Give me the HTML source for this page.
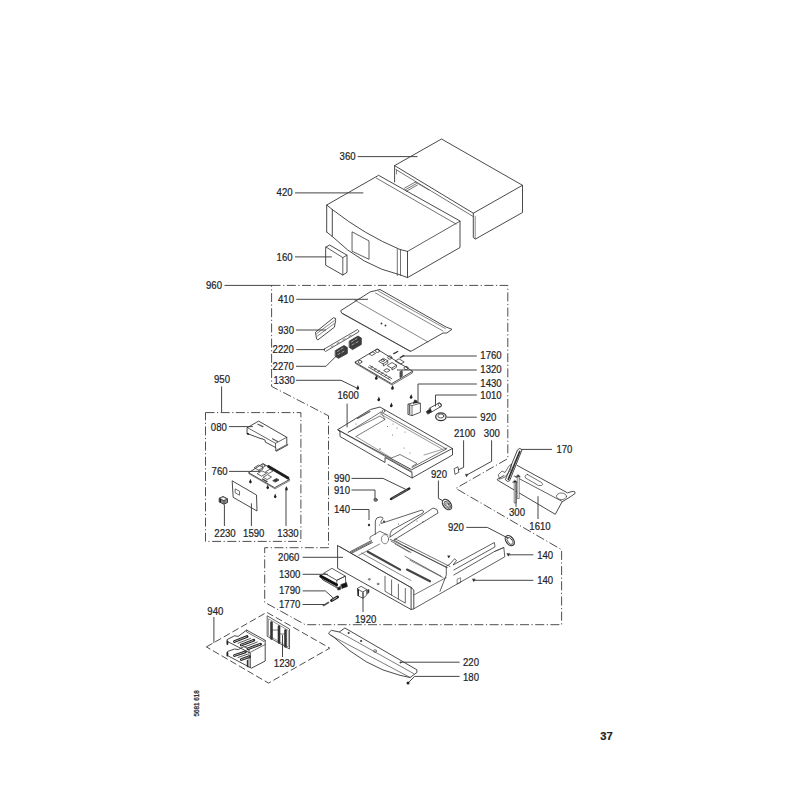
<!DOCTYPE html>
<html><head><meta charset="utf-8"><style>
html,body{margin:0;padding:0;background:#fff;width:800px;height:800px;overflow:hidden}
svg{display:block}
text{font-family:"Liberation Sans",sans-serif;fill:#222;stroke:#222;stroke-width:0.22px}
</style></head><body>
<svg width="800" height="800" viewBox="0 0 800 800">

<g font-size="11.3">
<text transform="translate(339.6,160.2) scale(0.85,1)">360</text>
<text transform="translate(276.6,196.2) scale(0.85,1)">420</text>
<text transform="translate(276.6,260.8) scale(0.85,1)">160</text>
<text transform="translate(206,289.3) scale(0.85,1)">960</text>
<text transform="translate(278,302.5) scale(0.85,1)">410</text>
<text transform="translate(278,334) scale(0.85,1)">930</text>
<text transform="translate(272.6,353) scale(0.85,1)">2220</text>
<text transform="translate(272.6,369.8) scale(0.85,1)">2270</text>
<text transform="translate(273.5,383.8) scale(0.85,1)">1330</text>
<text transform="translate(214,383) scale(0.85,1)">950</text>
<text transform="translate(480.3,359.3) scale(0.85,1)">1760</text>
<text transform="translate(480.3,373.3) scale(0.85,1)">1320</text>
<text transform="translate(480.3,387.3) scale(0.85,1)">1430</text>
<text transform="translate(480.3,398.6) scale(0.85,1)">1010</text>
<text transform="translate(337.5,399.3) scale(0.85,1)">1600</text>
<text transform="translate(480.3,421) scale(0.85,1)">920</text>
<text transform="translate(454,436.8) scale(0.85,1)">2100</text>
<text transform="translate(483.8,436.8) scale(0.85,1)">300</text>
<text transform="translate(556.4,452.5) scale(0.85,1)">170</text>
<text transform="translate(431,478) scale(0.85,1)">920</text>
<text transform="translate(334,482.4) scale(0.85,1)">990</text>
<text transform="translate(334,493.8) scale(0.85,1)">910</text>
<text transform="translate(334,513) scale(0.85,1)">140</text>
<text transform="translate(509,516.4) scale(0.85,1)">300</text>
<text transform="translate(529.3,529.5) scale(0.85,1)">1610</text>
<text transform="translate(447.9,531.3) scale(0.85,1)">920</text>
<text transform="translate(210.8,430.6) scale(0.85,1)">080</text>
<text transform="translate(211.6,475.3) scale(0.85,1)">760</text>
<text transform="translate(214.3,536.5) scale(0.85,1)">2230</text>
<text transform="translate(243.1,536.5) scale(0.85,1)">1590</text>
<text transform="translate(277.3,536.5) scale(0.85,1)">1330</text>
<text transform="translate(278.1,561) scale(0.85,1)">2060</text>
<text transform="translate(279,577.8) scale(0.85,1)">1300</text>
<text transform="translate(279,594.4) scale(0.85,1)">1790</text>
<text transform="translate(279,607.5) scale(0.85,1)">1770</text>
<text transform="translate(537.2,559) scale(0.85,1)">140</text>
<text transform="translate(537.2,584.4) scale(0.85,1)">140</text>
<text transform="translate(207.3,614.5) scale(0.85,1)">940</text>
<text transform="translate(355,622.5) scale(0.85,1)">1920</text>
<text transform="translate(273.8,667.4) scale(0.85,1)">1230</text>
<text transform="translate(463,666.3) scale(0.85,1)">220</text>
<text transform="translate(463,681) scale(0.85,1)">180</text>
</g>
<text x="600.2" y="740.3" font-size="11.2" font-weight="bold" fill="#111">37</text>
<text transform="translate(199.3,716.5) rotate(-90)" font-size="6.3">5681 618</text>
<g fill="none" stroke="#363636" stroke-width="0.9" stroke-linejoin="round" stroke-linecap="round">
<!-- box 360 -->
<path d="M394.6,182V165.6L441.5,139L522.5,185.3V212.5L475.5,239L473.3,237.5V213.2L394.6,165.6"/>
<path d="M473.3,213.2L522.5,185.3"/>
<path d="M396,169.6L472.8,216.3" stroke-width="0.7"/>
<path d="M475.2,216.2V238.8" stroke-width="0.6"/>
<path d="M396.5,170V174" stroke-width="0.6"/>
<path d="M404.4,188.2L415.4,182M405.4,189.8L416.4,183.6M406.4,191.3L417.4,185" stroke-width="0.7"/>
<path d="M415.4,182L429,190" stroke-width="0.6"/>
<!-- box 420 -->
<path d="M326.7,232V205L378.6,175.3L460,221V247.5L407.5,277.6V251.4"/>
<path d="M376.2,178L456,224" stroke-width="0.7"/>
<path d="M407.5,251.4L460,221.2" stroke-width="0.8"/>
<path d="M326.7,205L332.3,209.5Q365,235 400,249.5L407.5,251.4"/>
<path d="M332.3,209.5V236.5M326.7,232L332.3,236.5Q362,266 400.5,275L407.5,277.6"/>
<path d="M397.3,249V275.5M400.5,249.5V275.5" stroke-width="0.7"/>
<path d="M352.4,232L369,240.9V259.3L352.4,251.4Z" stroke-width="0.8"/>
<!-- 160 -->
<path d="M326,247L329.6,245L347,255.2V272.4L342.8,275L326,265.4Z"/>
<path d="M326,247L342.8,257.6L347,255.2M342.8,257.6V275" stroke-width="0.8"/>
<!-- 410 plate -->
<path d="M341,310.5L370.3,291.8L374,291L380,289.5L446,327L452,329.3L446.8,333L443,333L411.5,351L410,351L341.8,313Z"/>
<path d="M342,313.5L410.5,351.5" stroke-width="0.6"/>
<path d="M354.5,300L428,342" stroke-width="0.6"/>
<path d="M378.5,291.2L445.3,328.5M375.5,293L443,331" stroke-width="0.6"/>
<circle cx="381.5" cy="323.5" r="0.9" fill="#333" stroke="none"/><circle cx="385.5" cy="325.5" r="0.9" fill="#333" stroke="none"/>
<!-- 930 -->
<path d="M315.8,332L333.4,317.8Q336.5,317.5 335.6,320.5L334.4,327.2L317.9,339.9L316.9,339.2Z"/>
<path d="M316.8,333.5L334.4,320.5M317.5,336L334.2,323.6" stroke-width="0.6"/>
<!-- 2220 rod -->
<path d="M324.3,349L357.5,329.6Q359.5,330.5 358.6,332L325.6,351.4Q323.5,350.8 324.3,349Z" stroke-width="0.8"/>
<path d="M331,347L333,345.8M337,343.5L339,342.3M343,340L345,338.8M349,336.5L351,335.3" stroke-width="0.6"/>
<!-- 2270 connectors -->
<path d="M335.5,350.5L344,345.5L347.3,347.5V353.5L338.5,358.3L335.5,356.5Z" fill="#3c3c3c" stroke-width="0.8"/>
<path d="M337.5,351.5L339.5,350.3M341,349.3L343,348.1M338,354.5L340,353.3M342,352.3L344,351.1" stroke="#bbb" stroke-width="0.8"/>
<path d="M349.5,341L358,336L361.3,338V344.5L352.5,349.6L349.5,347.5Z" fill="#3c3c3c" stroke-width="0.8"/>
<path d="M351.5,342L353.5,340.8M355,339.8L357,338.6M352,345L354,343.8M356,342.8L358,341.6" stroke="#bbb" stroke-width="0.8"/>
<!-- PCB 1320 -->
<path d="M355.3,362L377,349L412.6,371.3L392,383.5Z"/>
<path d="M355.3,362V363.4L392,385L412.6,372.8V371.3" stroke-width="0.7"/>
<g stroke-width="0.8">
<ellipse cx="377.5" cy="350.8" rx="2" ry="1.7"/><ellipse cx="389.8" cy="357.5" rx="2" ry="1.7"/>
<ellipse cx="406" cy="368" rx="2" ry="1.7"/><ellipse cx="360" cy="361.8" rx="1.8" ry="1.5"/>
<path d="M369.5,353.8L372.8,351.8L375.5,353.4L372.2,355.4Z"/>
<path d="M379,361.2L383.5,358.3L387.8,360.8L383.3,363.7Z"/>
<path d="M383.3,363.7V366L387.8,363.1V360.8"/>
<ellipse cx="382.8" cy="360.4" rx="1.6" ry="1.1"/>
<path d="M387.5,365.3L392,362.5L396.5,365.2L392,368Z"/>
<path d="M392,368V370L396.5,367.2V365.2"/>
<path d="M384,370.3L387,368.5L390,370.3L387,372.1Z"/>
<path d="M395.5,360.8L399,358.8L404.2,362L400.7,364Z"/>
<path d="M400,372V377.5L402.2,376.3V370.8Z" fill="#555"/>
</g>
<path d="M368.4,367L390.3,380M369.8,365.6L391.7,378.6" stroke-width="0.8"/>
<path d="M371,367.5L372.5,366.6M374.5,369.6L376,368.7M378,371.7L379.5,370.8M381.5,373.8L383,372.9M385,375.9L386.5,375M388.5,378L390,377.1" stroke-width="0.8"/>
<path d="M393.8,353.6L397.7,351.5M400.3,357.7L403.8,355.5" stroke-width="1.4"/>
<!-- screws (bullet shape) -->
<g fill="#222" stroke="none">
<path d="M356.5,388.5l1.4,-3.4l1.4,3.4z"/><path d="M375,378.5l1.4,-3.4l1.4,3.4z"/><path d="M391.2,388.3l1.4,-3.4l1.4,3.4z"/>
<path d="M377.5,400l1.4,-3.4l1.4,3.4z"/><path d="M390,406l1.4,-3.4l1.4,3.4z"/><path d="M409.8,397.5l1.4,-3.4l1.4,3.4z"/>
<circle cx="357.7" cy="388.6" r="1.25"/><circle cx="376.2" cy="378.6" r="1.25"/><circle cx="392.4" cy="388.4" r="1.25"/>
<circle cx="378.7" cy="400.1" r="1.25"/><circle cx="391.2" cy="406.1" r="1.25"/><circle cx="411" cy="397.6" r="1.25"/>
</g>
<!-- 1430 relay -->
<path d="M408.3,404.2L416,401.8L420.4,403.3V412.3L412,415.6L408.3,414.5Z" stroke-width="0.85"/>
<path d="M408.3,404.2L412,405.6L420.4,403.3M412,405.6V415.6" stroke-width="0.7"/>
<path d="M409.5,405V413.8" stroke="#666" stroke-width="1.6"/>
<path d="M413.5,403.5L414.5,400L416.5,400.5L417.5,403" fill="#222" stroke-width="0.8"/>
<!-- 1010 capacitor -->
<path d="M429,408.5L438.8,403Q442,403.5 441,406.5L431,412.3" stroke-width="0.85"/>
<ellipse cx="439.8" cy="404.8" rx="1.4" ry="2.2" transform="rotate(-30 439.8 404.8)" stroke-width="0.7"/>
<path d="M426.5,411.5L430.5,408.5L431.5,412L428,414Z" fill="#222" stroke-width="0.8"/>
<!-- 920 ring top -->
<ellipse cx="440.9" cy="416.8" rx="5.2" ry="3.9" stroke-width="1.3"/>
<ellipse cx="440.9" cy="416" rx="3" ry="2" stroke-width="0.8"/>
<!-- tray 1600 -->
<path d="M338,429.5L355,419L370.5,409.5L380,407L452.5,448.5L412,469.5Z"/>
<path d="M338,429.5L340,432V436.5L385,462.5V457.5L388,459L412,472.5V478L452.5,455V448.5M412,478L388,464.5"/>
<path d="M339,430.5L412,471.5" stroke-width="0.6"/>
<path d="M348,432.5L381,412L446.5,449L442.5,451L412,467.5" stroke-width="0.7"/>
<path d="M348.5,432L380,416L385,419.5L356,436.5" stroke-width="0.65"/>
<path d="M391.5,458L400,454.5L417,463.5L412,466.5" stroke-width="0.65"/>
<path d="M356,436.5L391.5,458" stroke-width="0.5"/>
<path d="M381,412L385,419.5M380.5,414L442,449" stroke-width="0.5"/>
<path d="M357.5,418.5L370,411.5" stroke-width="1.1" stroke="#555"/>
<circle cx="383.5" cy="411" r="1.3" stroke-width="0.6"/>
<path d="M424,455L447,448" stroke-width="0.5"/>
<g fill="#555" stroke="none"><circle cx="356" cy="424" r="0.5"/><circle cx="387.5" cy="426.5" r="0.5"/><circle cx="393" cy="424" r="0.5"/><circle cx="397" cy="428" r="0.5"/><circle cx="405" cy="432" r="0.5"/><circle cx="392.5" cy="435" r="0.5"/><circle cx="410" cy="453" r="0.5"/><circle cx="404" cy="448" r="0.5"/><circle cx="380" cy="449" r="0.7"/></g>
<!-- 2100 small -->
<path d="M454.5,468.5L458,466.8L458.8,472.3L455.3,474.2Z" stroke-width="0.8"/>
<path d="M465.6,474.6l1,2.2l1,-2.2z" fill="#222" stroke="#222" stroke-width="0.6"/>
<!-- 170 rod -->
<path d="M517.8,449.5Q519.8,447 522,449.8L509.6,480.8Q507.3,482.5 505.6,480Z" stroke-width="0.9" fill="#fff"/>
<path d="M519.7,451.5L508.2,479.5" stroke-width="1.8" stroke="#333" stroke-dasharray="1 0.7"/>
<!-- plate 1610 -->
<path d="M517,465.3L567.6,492.9Q576,489.5 575,493.5L570,497L562,501.9L555.3,514.3L497.3,480L497.3,479.4L504,475.5"/>
<path d="M514.2,476L562,501.3" stroke-width="0.8"/>
<path d="M498.5,474.5L502,471L505,472.5L508.5,466.5L511.5,464L510.5,470L505,477L500,479Z" stroke-width="0.7"/>
<path d="M527.5,474.5L541.5,482.5Q544,484.5 541.5,485.5L538.5,485.5L525.5,478Q524,475 527.5,474.5Z" stroke-width="0.7"/>
<ellipse cx="561.5" cy="496.3" rx="5" ry="3.3" stroke-width="0.7"/>
<path d="M514.2,482.5V503H516.2V482.5M517.2,477V498.5H519.2V477" stroke-width="0.6" fill="#fff"/>
<path d="M512.8,482.3h4.4l-2.2,-2z M516,476.8h4.4l-2.2,-2z" fill="#222" stroke-width="0.5"/>
<!-- 920 ring mid -->
<ellipse cx="447" cy="504.5" rx="3.7" ry="5.9" transform="rotate(-38 447 504.5)" stroke-width="1.2"/>
<ellipse cx="447.3" cy="504.8" rx="2.2" ry="4.2" transform="rotate(-38 447.3 504.8)" stroke-width="0.8"/>
<ellipse cx="447.5" cy="505" rx="1" ry="2.8" transform="rotate(-38 447.5 505)" stroke-width="0.6"/>
<!-- 990 spring -->
<path d="M391,499L409.3,488.5" stroke-width="2.4" stroke="#222"/>
<path d="M392.5,498.2L408,489.3" stroke-width="0.8" stroke="#888" stroke-dasharray="0.8 1"/>
<!-- 910 nut -->
<ellipse cx="375.6" cy="499.8" rx="1.8" ry="1.6" fill="#777" stroke-width="0.6"/>
<!-- 920 ring lower -->
<ellipse cx="509.8" cy="540.6" rx="3.7" ry="5.7" transform="rotate(-38 509.8 540.6)" stroke-width="1.2"/>
<ellipse cx="510" cy="540.9" rx="2.2" ry="4" transform="rotate(-38 510 540.9)" stroke-width="0.8"/>
<!-- 080 cover -->
<path d="M247.4,427.6L258.6,421.1L286.8,437.3V443.5L288,444.8L276.5,451.2L275.8,450.8V447.6L265.2,442V440.2L261.8,438.6V439L247.4,433.6Z" fill="#fff"/>
<path d="M247.4,427.6L275.5,443.3L286.8,437.3M275.5,443.3V447.6M276,450.5L286.8,444.5" stroke-width="0.75"/>
<path d="M247.4,433.6l1,0.6" stroke-width="1.6" stroke="#222"/>
<path d="M258,424.2L263,426.6M272.5,438.8L277.5,441.6" stroke-width="1.2" stroke="#555"/>
<!-- 760 pcb -->
<path d="M249,472.5L263,463.5L289.5,479.5L275,487.5Z"/>
<path d="M249,472.5V473.8L275,488.8L289.5,480.8V479.5" stroke-width="0.6"/>
<path d="M268.5,466.5L288,478" stroke-width="2.8" stroke="#1e1e1e"/>
<g stroke-width="0.75">
<path d="M254.5,467.5L258.5,465L263,467.5L259,470Z"/>
<path d="M259,470V471.5L263,469V467.5"/>
<ellipse cx="263.5" cy="465.8" rx="1.6" ry="1.2"/>
<path d="M257.5,473.5L262,470.8L266.5,473.3L262,476Z M263.5,477L267.5,474.6L271.5,477L267.5,479.4Z"/>
<path d="M266,471.5L270,469.2L273,471L269,473.3Z"/>
<path d="M273,480.5L276.5,478.5L279,480L275.5,482Z" fill="#333"/>
</g>
<path d="M262.5,479L267,481.7" stroke-width="1.4" stroke="#444"/>
<!-- 1590 plate -->
<path d="M232.5,481L256.5,495L257,511L233.5,497.5Z" stroke-width="0.9"/>
<path d="M235.5,489L239.5,491.2V495.2L235.5,493Z" stroke-width="0.7"/>
<!-- 2230 -->
<path d="M219.5,498.2L223,496.5L227.5,498.8V502.5L224,504.3L219.5,502Z" fill="#888" stroke-width="0.9"/>
<path d="M219.5,498.2L224,500.5L227.5,498.8M224,500.5V504.3" stroke-width="0.6"/>
<path d="M220.3,499V502" stroke-width="1.4" stroke="#222"/>
<path d="M220,498.3L223,497L226.8,499L224,500.3Z" fill="#fff" stroke-width="0.5"/>
<!-- screws 950 -->
<g fill="#222" stroke="none">
<path d="M249,482.2l1.4,-3.4l1.4,3.4z"/><path d="M266.3,488l1.4,-3.4l1.4,3.4z"/><path d="M273.8,497l1.4,-3.4l1.4,3.4z"/><path d="M285.1,489.5l1.4,-3.4l1.4,3.4z"/>
<circle cx="250.4" cy="482.3" r="1.15"/><circle cx="267.7" cy="488.1" r="1.15"/><circle cx="275.2" cy="497.1" r="1.15"/><circle cx="286.5" cy="489.6" r="1.15"/>
</g>
<!-- chassis 2060 -->
<path d="M337.6,545.6V568.3L411.1,609.5V587.5L337.6,545.6"/>
<path d="M339.5,546.5L411.8,588" stroke-width="0.6"/>
<path d="M411.1,609.5L413.8,608.8V590L411.1,587.5"/>
<path d="M350.5,551.5L371.5,540.6M351.5,553.3L372.5,542.4" stroke-width="0.8"/>
<path d="M351,552.4L372,541.5" stroke-width="0.8" stroke-dasharray="0.7 0.7"/>
<path d="M367.8,551.8L400.1,569.6" stroke-width="2.2" stroke="#444"/>
<path d="M407,569.6L430,581.3" stroke-width="2.2" stroke="#444"/>
<path d="M390.5,539.4L447.3,567.5M395,538.8L450,566.5" stroke-width="0.7"/>
<path d="M361.6,553L411,580.5M410,560.3L443,577.6" stroke-width="0.6"/>
<path d="M385,576.3V591.3L405.3,603.1V588.5M391.6,580V595M398.4,584.2V599" stroke-width="0.75"/>
<circle cx="369.2" cy="579.3" r="0.9" stroke-width="0.6"/><circle cx="378" cy="584" r="0.9" stroke-width="0.6"/>
<!-- bracket base + arms 140 (center) -->
<path d="M375.3,534.3V521Q376,517 380,517Q383.5,517 383,518.5L381,521.5V523.5L422,510L423.5,511L423,513L392,530Q389.5,533 390,537" stroke-width="0.8"/>
<path d="M390,537L433,508L437,509.5L438,513L394,540" stroke-width="0.8"/>
<path d="M370,539.5V537L379.8,531.3L388,535" stroke-width="0.7"/>
<ellipse cx="385" cy="539.2" rx="3.6" ry="4.6" stroke-width="0.6"/>
<path d="M391,541L411,552.5M394,540L412,550.5" stroke-width="0.7"/>
<path d="M395,544L409,552" stroke-width="0.6" stroke-dasharray="1.2 1"/>
<path d="M358.8,555.3L379.8,544" stroke-width="0.6"/>
<g fill="#333" stroke="none"><circle cx="379.5" cy="525" r="0.5"/><circle cx="398.5" cy="524" r="0.5"/><circle cx="417" cy="521" r="0.5"/><circle cx="423" cy="521.5" r="0.5"/><circle cx="384" cy="521.5" r="1"/><circle cx="369" cy="525" r="1.2"/></g>
<!-- right arm 140 -->
<path d="M405,546.3L446.3,567.5M405,556.3L441.3,576.3" stroke-width="0.7"/>
<path d="M413.8,595L446.3,577.5" stroke-width="0.7"/>
<path d="M440,591.3L446.3,575V566.3L450,564L454.5,558.8L456.5,560.5L453.1,565L494.4,542.5L495,546.9L453.8,570" stroke-width="0.8"/>
<path d="M453.8,575L494.5,551.5L503.8,547.5L504.8,556.8L413.8,608.8" stroke-width="0.8"/>
<path d="M494.5,551.5L503.8,547.5" stroke-width="0.6"/>
<path d="M457.5,579L460.6,577.8V582.5L457.5,583.8Z" stroke-width="0.6"/>
<path d="M472.5,579.3l1.3,2.4l1.3,-2.4z M447.8,556l1,2l1,-2z M507,553.8l1.3,2.4l1.3,-2.4z" fill="#222" stroke="#222" stroke-width="0.5"/>
<!-- 1300 -->
<path d="M324,573.1L331.9,568.3L345.4,576.1L336.8,580.3Z" fill="#fff" stroke-width="0.8"/>
<path d="M320.5,576.2L324,573.1L336.8,580.3V587.8L323,580Z" fill="#fff" stroke-width="0.7"/>
<path d="M336.8,580.3L345.4,576.1L345.8,584L337.5,587.8" stroke-width="0.8"/>
<path d="M320.8,576.2L336.5,584.8" stroke-width="3" stroke="#111"/>
<path d="M322.5,579.5L336.5,587.3" stroke-width="0.6"/>
<path d="M341,584.5L346.5,582.5L347.5,586.5L342,588.5Z" fill="#111" stroke-width="0.6"/>
<path d="M337.5,587.8L340.5,587L340.5,589.6L338,590Z" fill="#111" stroke-width="0.6"/>
<!-- 1790 spring -->
<path d="M331.6,600.5L337.5,597" stroke-width="3" stroke="#222"/>
<path d="M332.6,599.9L336.8,597.4" stroke-width="0.9" stroke="#ddd" stroke-dasharray="0.9 0.9"/>
<!-- 1770 screw -->
<path d="M323.5,605.5L328.5,602.5" stroke-width="1.6" stroke="#555"/>
<!-- 1920 -->
<path d="M357.4,588.5L361.1,586.3L366.8,589.6L363,591.9Z" stroke-width="0.8"/>
<path d="M357.4,588.5L358.5,596L363,598.3V591.9M366.8,589.6V595L363,598.3" stroke-width="0.8"/>
<path d="M358.2,590V595.5" stroke="#222" stroke-width="1.5"/>
<path d="M367.5,590L369,589.5V592.5L367.5,593.5Z" fill="#222" stroke-width="0.6"/>
<!-- 220 bar -->
<path d="M329.1,632.5L331.4,630.3L339.3,632L344.9,628L416.9,669.8V672.5L410.1,677.5L400,675.3Q365.7,667.4 333.6,637L329.1,634Z"/>
<path d="M339.3,632L413.5,673.5M331,635.5L410.1,677.5" stroke-width="0.65"/>
<circle cx="348.5" cy="633" r="0.6" fill="#333"/><circle cx="361" cy="641" r="0.6" fill="#333"/><circle cx="375" cy="651" r="1.4" stroke-width="0.6"/><circle cx="400.5" cy="662.5" r="0.6" fill="#333"/>
<circle cx="408" cy="683" r="1.5" fill="#222" stroke="none"/>
<!-- 940 connectors -->
<path d="M227.4,639.4L234.6,635.8L238.2,636.4L246.6,630.1L265.2,640.3V661L251.4,668.2L227.4,655.5V651.5L234.6,649L238.2,649.6L244,646.5L249,649.2V652.5L227.4,641.5Z" fill="#fff" stroke-width="0.9"/>
<path d="M249,653L265.2,644.5M249,652.5V667.4M250.5,653V667.5" stroke-width="0.7"/>
<path d="M246.6,630.1V632L264,641.5L265.2,640.3" stroke-width="0.7"/>
<path d="M234.5,641.5L247,636.5M241.3,645L253.8,640.2M248,648.7L260.5,644.2" stroke-width="2.8" stroke="#1e1e1e"/>
<path d="M234.5,641.5L247,636.5M241.3,645L253.8,640.2M248,648.7L260.5,644.2" stroke-width="0.7" stroke="#fff" stroke-dasharray="0.6 0.9"/>
<path d="M238,643.3L250.5,638.4M244.8,646.8L257.3,642" stroke-width="0.9" stroke="#444"/>
<path d="M234.5,655.5L245.5,651.8M241.3,659.5L249.5,656.6" stroke-width="2.8" stroke="#1e1e1e"/>
<path d="M234.5,655.5L245.5,651.8M241.3,659.5L249.5,656.6" stroke-width="0.7" stroke="#fff" stroke-dasharray="0.6 0.9"/>
<path d="M238,657.5L247.5,654.2" stroke-width="0.9" stroke="#444"/>
<path d="M227.4,641.5V644M227.4,655.5V652.8" stroke-width="1.8" stroke="#222"/>
<path d="M247.5,660.5V666.5" stroke-width="1.4" stroke="#333"/>
<!-- 1230 -->
<path d="M267.5,616L289.5,629V649L267.5,636.5Z" stroke-width="0.8"/>
<path d="M268.8,619L288.3,630.5V647L268.8,635.5Z" stroke-width="0.5"/>
<path d="M271.5,622.5V638.5M279,626.5V642.5M285.5,630.5V646.5" stroke-width="2.6" stroke="#333"/>
<path d="M271.5,630H279M279,634H285.5" stroke-width="0.7"/>
</g>

<g fill="none" stroke="#3c3c3c" stroke-width="0.95">
<path d="M357.7,156.6H417.5"/>
<path d="M295,192.9H363.3"/>
<path d="M295,256.9H331.8"/>
<path d="M224.5,285.4H271.8"/>
<path d="M296.3,299.3H368"/>
<path d="M296,330H326"/>
<path d="M296.3,349.6H325"/>
<path d="M296,366.3H326L336.5,355.8"/>
<path d="M296,380.3H341L356.8,388"/>
<path d="M402.3,356H476.8"/>
<path d="M397,370H476.8"/>
<path d="M418,402V384H476.8"/>
<path d="M435.5,406.5V395H476.8"/>
<path d="M347.1,403.6V427.3"/>
<path d="M447,417.2H476.8"/>
<path d="M463.6,440.3V467.4L458,470"/>
<path d="M491.6,440.3V461.3L466.3,475.3"/>
<path d="M521.4,449.4H552"/>
<path d="M438.4,480.5V498.3L442.8,500.8"/>
<path d="M351.5,478.4H383L405.8,489.4"/>
<path d="M351.5,490H375V499"/>
<path d="M351.5,509.5H369V520"/>
<path d="M516,506.8V482.3"/>
<path d="M538,519V496.3"/>
<path d="M466.3,527.4H487.3L508.3,538.3"/>
<path d="M229,426.6H252.8"/>
<path d="M229,471.4H259.8"/>
<path d="M224.4,505V526"/>
<path d="M251.4,503.3V526"/>
<path d="M286,487.5V526"/>
<path d="M221.6,386.4V412.6"/>
<path d="M302.6,557.3H343"/>
<path d="M302.6,574.3H328"/>
<path d="M302.6,590.9H325.4L333.3,598"/>
<path d="M302.6,604.5H324.5"/>
<path d="M508.1,554.8H533.4"/>
<path d="M473.4,580.3H533.4"/>
<path d="M213.9,617V642.9"/>
<path d="M363,592.8V612"/>
<path d="M282.5,635V657"/>
<path d="M401.1,662.2H459.6"/>
<path d="M409,682L414.6,676.4H459.6"/>
</g>
<g fill="none" stroke="#3a3a3a" stroke-width="0.9" stroke-dasharray="9 2.5 1.2 2.5">
<path d="M271.6,285.4H507.8V458.6L455.8,488.4L561.6,549.7V624.7H305.3L264.7,602.3V547.7H328.5V415.8L271.6,386.4Z"/>
<path d="M205.5,412.6H300.9V541.4H205.5Z"/>
</g>
<g fill="none" stroke="#3a3a3a" stroke-width="0.9" stroke-dasharray="7 3">
<path d="M206.4,646.9L266.8,612.3L329.8,648.1L268.5,683.1Z"/>
</g>
</svg></body></html>
